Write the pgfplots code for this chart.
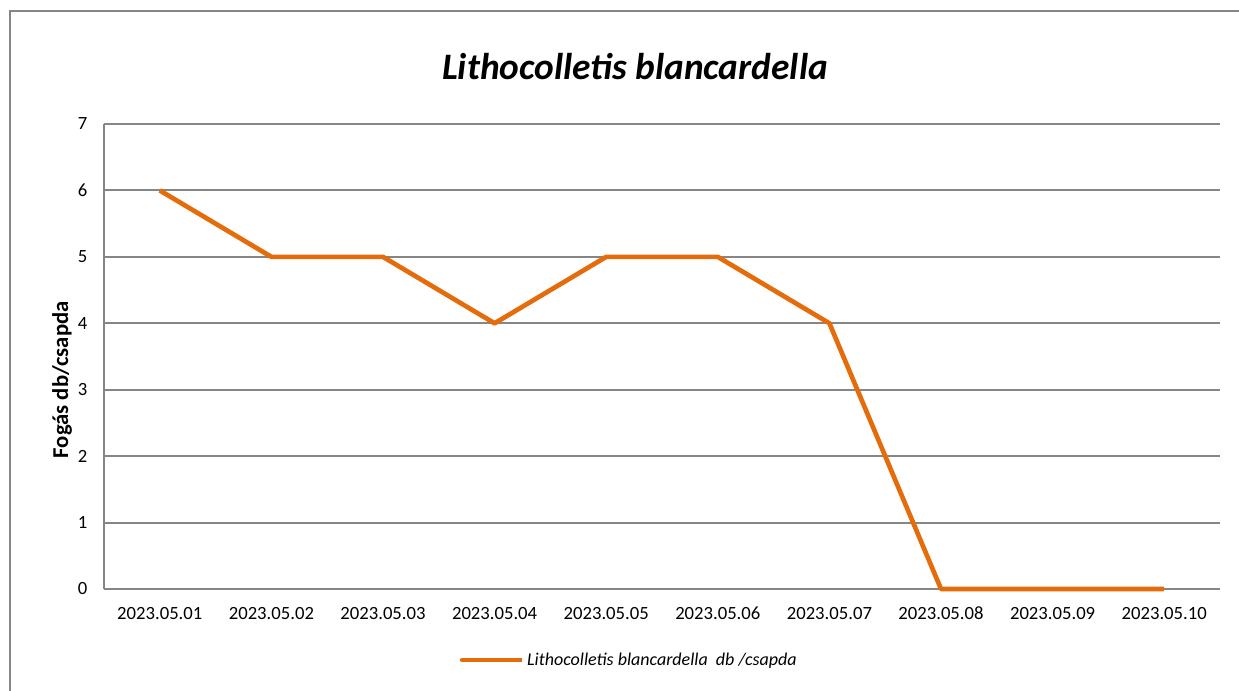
\documentclass[border=0pt]{standalone}
\usepackage{fontspec}
\setmainfont{Carlito}
\usepackage{pgfplots}
\pgfplotsset{compat=1.18}
\definecolor{lineorange}{RGB}{228,108,10}
\definecolor{gridgray}{RGB}{134,134,134}
\begin{document}
\begin{tikzpicture}[x=0.75pt,y=0.75pt]
\useasboundingbox (0,0) rectangle (1239,690);
\draw[gridgray, line width=1.5pt] (10,-20) -- (10,679) -- (1260,679);
\node[font=\fontsize{28}{30}\selectfont\bfseries\itshape] at (635,623) {Lithocolletis blancardella};
\begin{axis}[
  at={(78pt,75.75pt)}, anchor=south west,
  scale only axis,
  width=837pt, height=348.75pt,
  xmin=-0.5, xmax=9.5, ymin=0, ymax=7,
  ytick={0,1,...,7},
  xtick={0,...,9},
  xticklabels={2023.05.01,2023.05.02,2023.05.03,2023.05.04,2023.05.05,2023.05.06,2023.05.07,2023.05.08,2023.05.09,2023.05.10},
  major tick length=0pt,
  axis x line*=bottom,
  axis y line*=left,
  axis line style={gridgray, line width=1.5pt, -},
  ymajorgrids,
  grid style={gridgray, line width=1.5pt},
  tick label style={font=\fontsize{14}{16}\selectfont},
  /pgf/number format/assume math mode=true,
  xticklabel style={yshift=-10pt},
  yticklabel style={xshift=-9pt},
  ylabel={\bfseries Fogás db/csapda},
  ylabel style={font=\fontsize{17}{19}\selectfont, at={(axis description cs:-0.0376,0.45)}, anchor=center},
  legend style={at={(axis description cs:0.471,-0.153)}, anchor=center, draw=none, fill=none,
    font=\fontsize{13.5}{15}\selectfont\itshape},
  legend image code/.code={\draw[#1, line cap=round] (0pt,0pt) -- (40pt,0pt); \path (0pt,0pt) -- (45pt,0pt);},
  clip=false,
]
\addplot[lineorange, line width=3.5pt, line join=round] coordinates {
 (0,6) (1,5) (2,5) (3,4) (4,5) (5,5) (6,4) (7,0) (8,0) (9,0)
};
\addlegendentry{Lithocolletis blancardella\ \ db /csapda}
\end{axis}
\end{tikzpicture}
\end{document}
